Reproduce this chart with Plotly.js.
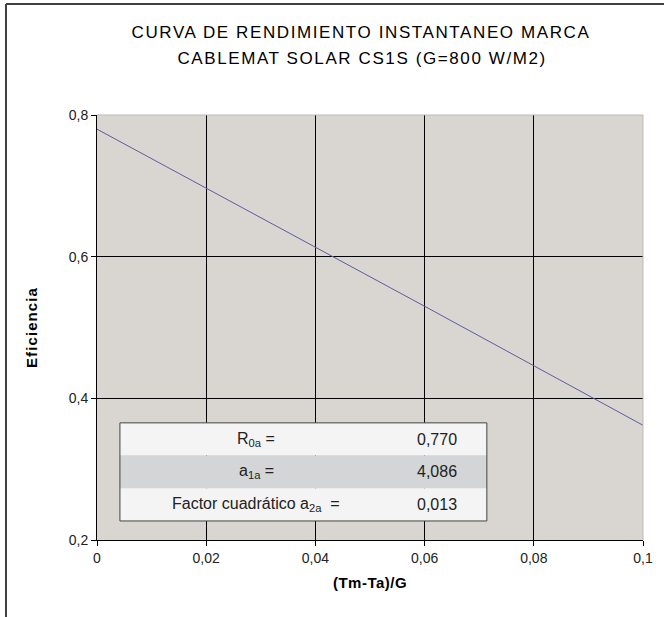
<!DOCTYPE html>
<html>
<head>
<meta charset="utf-8">
<script src="https://cdn.plot.ly/plotly-3.0.1.min.js"></script>
<style>
html,body{margin:0;padding:0;background:#fff;}
#chart{width:664px;height:617px;}
</style>
</head>
<body>
<div id="chart"></div>
<script>
// ---- data ----
var xValues = [0, 0.02, 0.04, 0.06, 0.08, 0.1];
var efficiency = [0.780, 0.697, 0.613, 0.530, 0.446, 0.362];
var xTicks = [0, 0.02, 0.04, 0.06, 0.08, 0.1];
var yTicks = [0.2, 0.4, 0.6, 0.8];
var titleLines = ["CURVA DE RENDIMIENTO INSTANTANEO MARCA", "CABLEMAT SOLAR CS1S (G=800 W/M2)"];
var tableLabels = ["R<sub>0a</sub> =", "a<sub>1a</sub> =", "Factor cuadrático a<sub>2a</sub>  ="];
var tableValues = ["0,770", "4,086", "0,013"];
var xTitle = "(Tm-Ta)/G";
var yTitle = "Eficiencia";

(function () {
  var trace = {
    x: xValues, y: efficiency, type: 'scatter', mode: 'lines',
    line: {color: '#5d5d9e', width: 1}, hoverinfo: 'skip', showlegend: false
  };

  var font = 'Liberation Sans, Arial, sans-serif';
  var shapes = [];
  var annotations = [];

  // outer frame (top and left)
  shapes.push({type:'line', xref:'paper', yref:'paper', x0:-0.1667, x1:1.1, y0:1.261, y1:1.261, line:{color:'#404040', width:2}});
  shapes.push({type:'line', xref:'paper', yref:'paper', x0:-0.1667, x1:-0.1667, y0:1.261, y1:-0.3, line:{color:'#404040', width:2}});
  // light top/right plot edge
  shapes.push({type:'line', xref:'paper', yref:'paper', x0:0, x1:1, y0:1, y1:1, line:{color:'#bdbab6', width:1}, layer:'above'});
  shapes.push({type:'line', xref:'paper', yref:'paper', x0:1, x1:1, y0:0, y1:1, line:{color:'#bdbab6', width:1}, layer:'above'});

  // table
  var tx0 = 0.042, tx1 = 0.714, ty1 = 0.2756, ty0 = 0.0448;
  var rowH = (ty1 - ty0) / tableLabels.length;
  var rowFill = ['#f3f4f3', '#d4d5d6', '#f3f4f3'];
  for (var i = 0; i < tableLabels.length; i++) {
    var rTop = ty1 - i * rowH, rBot = rTop - rowH;
    shapes.push({type:'rect', xref:'paper', yref:'paper', x0:tx0, x1:tx1, y0:rBot, y1:rTop, fillcolor:rowFill[i], line:{width:0}, layer:'above'});
    annotations.push({xref:'paper', yref:'paper', x:0.292, y:(rTop+rBot)/2, text:tableLabels[i], showarrow:false, xanchor:'center', yanchor:'middle', font:{family:font, size:16, color:'#222'}});
    annotations.push({xref:'paper', yref:'paper', x:0.623, y:(rTop+rBot)/2, text:tableValues[i], showarrow:false, xanchor:'center', yanchor:'middle', font:{family:font, size:16, color:'#222'}});
  }
  shapes.push({type:'rect', xref:'paper', yref:'paper', x0:tx0, x1:tx1, y0:ty0, y1:ty1, line:{color:'#444', width:1}, layer:'above'});

  // title lines
  annotations.push({xref:'paper', yref:'paper', x:0.485, y:1.193, text:titleLines[0], showarrow:false, xanchor:'center', yanchor:'middle', font:{family:font, size:17, color:'#000'}});
  annotations.push({xref:'paper', yref:'paper', x:0.485, y:1.134, text:titleLines[1], showarrow:false, xanchor:'center', yanchor:'middle', font:{family:font, size:17, color:'#000'}});

  var layout = {
    width: 664, height: 617,
    margin: {l: 97, r: 21, t: 115, b: 77},
    paper_bgcolor: '#ffffff',
    plot_bgcolor: '#d9d5d1',
    separators: ',.',
    showlegend: false,
    xaxis: {
      range: [0, 0.1], tickvals: xTicks, ticks: 'outside', ticklen: 5, tickcolor: '#000',
      showgrid: true, gridcolor: '#000', gridwidth: 1, zeroline: false,
      showline: true, linecolor: '#000', linewidth: 1,
      tickfont: {family: font, size: 14, color: '#222'},
      title: {text: '<b>' + xTitle + '</b>', font: {family: font, size: 15, color: '#000'}, standoff: 12}
    },
    yaxis: {
      range: [0.2, 0.8], tickvals: yTicks, tickformat: '.1f', ticks: 'outside', ticklen: 5, tickcolor: '#000',
      showgrid: true, gridcolor: '#000', gridwidth: 1, zeroline: false,
      showline: true, linecolor: '#000', linewidth: 1,
      tickfont: {family: font, size: 14, color: '#222'},
      title: {text: '<b>' + yTitle + '</b>', font: {family: font, size: 15, color: '#000'}, standoff: 27}
    },
    shapes: shapes,
    annotations: annotations
  };

  Plotly.newPlot('chart', [trace], layout, {displayModeBar: false, staticPlot: true}).then(function (gd) {
    // widen letter spacing like the original spreadsheet rendering
    var texts = gd.querySelectorAll('.annotation-text');
    texts.forEach(function (t) {
      if (titleLines.indexOf(t.textContent) >= 0) t.style.letterSpacing = '1.6px';
    });
    var yt = gd.querySelector('.ytitle');
    if (yt) yt.style.letterSpacing = '1.1px';
    var xt = gd.querySelector('.xtitle');
    if (xt) xt.style.letterSpacing = '0.5px';
  });
})();
</script>
</body>
</html>
